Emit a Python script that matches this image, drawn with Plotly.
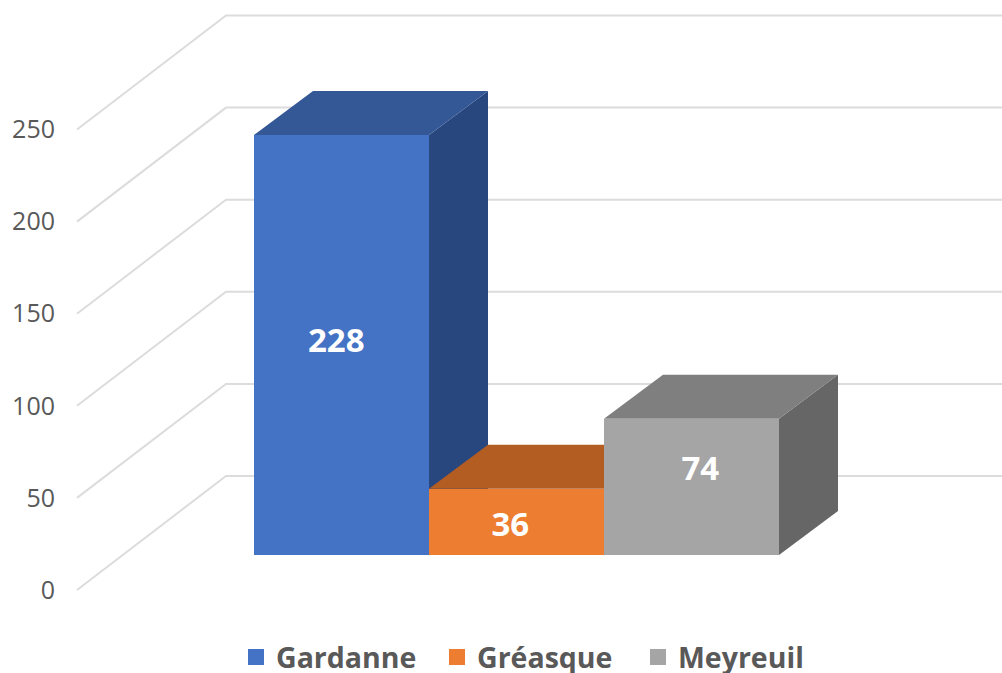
import plotly.graph_objects as go

categories = ["Gardanne", "Gréasque", "Meyreuil"]
values = [228, 36, 74]
front_colors = ["#4472C4", "#ED7D31", "#A5A5A5"]
top_colors = ["#345796", "#B35D22", "#7F7F7F"]
side_colors = ["#29477F", "#8E4A1B", "#666666"]
label_fractions = [0.503, 0.405, 0.61]
label_shifts = [-0.03, -0.035, 0.05]
tick_values = [0, 50, 100, 150, 200, 250]

W, H = 1002, 700    # the window crops the page at 673 px; the extra room keeps the legend from pushing the plot
PX_CAT = 175.0      # pixels per category
PX_VAL = 1.842      # pixels per value unit
X_ZERO = 341.5      # pixel of first category centre
Y_ZERO = 555.0      # pixel of value 0 at the front of the bars
LEFT = 56.0         # pixel of the plot area's left edge

xr = [(LEFT - X_ZERO) / PX_CAT, (W - X_ZERO) / PX_CAT]
yr = [(Y_ZERO - H) / PX_VAL, Y_ZERO / PX_VAL]

# oblique projection offsets, in data units
BAR_DX, BAR_DY = 59 / PX_CAT, 44 / PX_VAL
WALL_X = (226 - X_ZERO) / PX_CAT
WALL_Y0 = (Y_ZERO - 476) / PX_VAL
EDGE_X = (77 - X_ZERO) / PX_CAT
EDGE_Y0 = (Y_ZERO - 590) / PX_VAL

fig = go.Figure()

# floor / wall gridlines
for t in tick_values:
    fig.add_trace(go.Scatter(
        x=[EDGE_X, WALL_X, xr[1]],
        y=[EDGE_Y0 + t, WALL_Y0 + t, WALL_Y0 + t],
        mode="lines", line=dict(color="#DCDCDC", width=2),
        showlegend=False, hoverinfo="skip"))

# 3D faces (top and side) derived from the values
for i, v in enumerate(values):
    l, r = i - 0.5, i + 0.5
    fig.add_trace(go.Scatter(
        x=[r, r + BAR_DX, r + BAR_DX, r, r],
        y=[0, BAR_DY, v + BAR_DY, v, 0],
        mode="lines", fill="toself", fillcolor=side_colors[i],
        line=dict(width=0), showlegend=False, hoverinfo="skip"))
    fig.add_trace(go.Scatter(
        x=[l, r, r + BAR_DX, l + BAR_DX, l],
        y=[v, v, v + BAR_DY, v + BAR_DY, v],
        mode="lines", fill="toself", fillcolor=top_colors[i],
        line=dict(width=0), showlegend=False, hoverinfo="skip"))

# legend entries
for c, col in zip(categories, front_colors):
    fig.add_trace(go.Scatter(
        x=[None], y=[None], mode="markers", name=c,
        marker=dict(symbol="square", size=18, color=col)))

# front faces on an overlay so they cover the neighbouring top faces
fig.add_trace(go.Bar(
    x=list(range(len(values))), y=values, width=1,
    marker=dict(color=front_colors, line=dict(width=0)),
    xaxis="x2", yaxis="y2", showlegend=False, hovertemplate="%{y}<extra></extra>"))
fig.add_trace(go.Scatter(
    x=[i + s for i, s in enumerate(label_shifts)],
    y=[v * f for v, f in zip(values, label_fractions)],
    text=[str(v) for v in values], mode="text",
    textfont=dict(family="Open Sans", size=33, color="white", weight="bold"),
    xaxis="x2", yaxis="y2", showlegend=False, hoverinfo="skip"))

dom = [LEFT / W, 1]
fig.update_layout(
    width=W, height=H, margin=dict(l=0, r=0, t=0, b=0),
    paper_bgcolor="white", plot_bgcolor="white",
    font=dict(family="Open Sans", color="#595959"),
    xaxis=dict(domain=dom, range=xr, visible=False, fixedrange=True),
    yaxis=dict(
        range=yr, tickmode="array",
        tickvals=[EDGE_Y0 + t for t in tick_values],
        ticktext=[str(t) for t in tick_values],
        showgrid=False, zeroline=False, showline=False, ticks="",
        tickfont=dict(family="Open Sans", size=25, color="#595959"),
        fixedrange=True),
    xaxis2=dict(domain=dom, range=xr, visible=False, overlaying="x", fixedrange=True),
    yaxis2=dict(range=yr, visible=False, overlaying="y", fixedrange=True),
    bargap=0,
    legend=dict(
        orientation="h", x=236 / W, xanchor="left", y=1 - 632 / H, yanchor="top",
        font=dict(family="Open Sans", size=28.5, color="#595959", weight="bold"),
        itemsizing="trace", entrywidth=156, entrywidthmode="pixels",
        bgcolor="rgba(0,0,0,0)"),
)

fig.write_html(
    "out.html",
    config={"displayModeBar": False},
    post_script="document.body.style.margin='0';document.documentElement.style.overflow='hidden';document.body.style.overflow='hidden';",
)
